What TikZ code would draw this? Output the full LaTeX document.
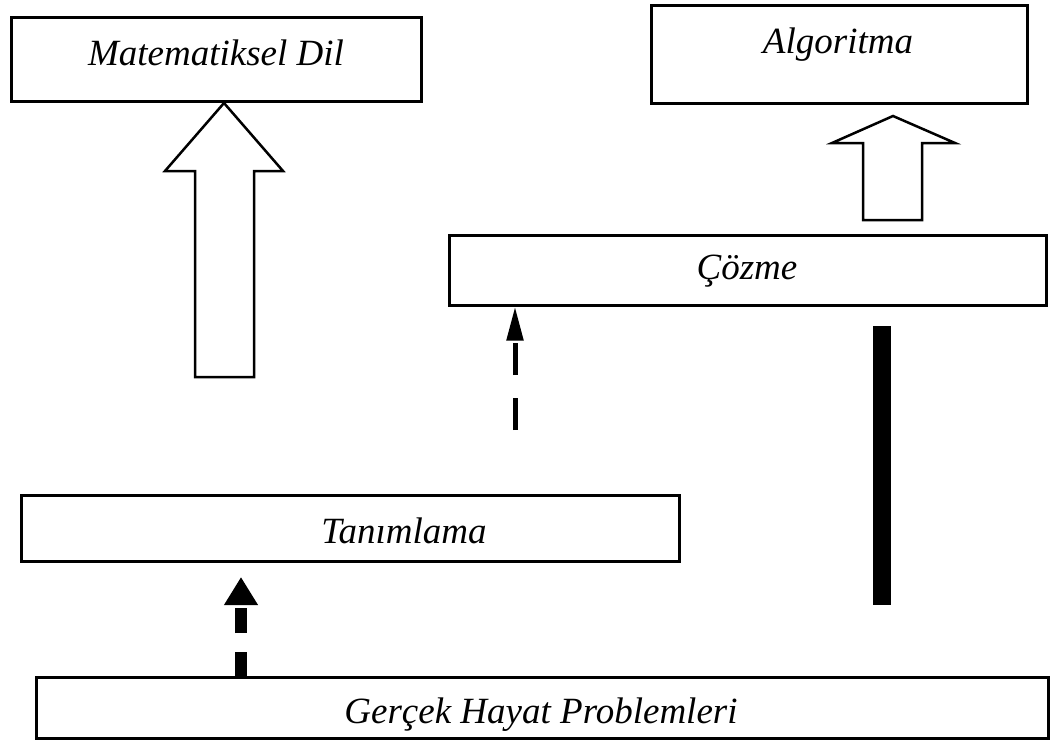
\documentclass[tikz,border=0pt]{standalone}
\usepackage{fontspec}
\setmainfont{Liberation Serif}
\usetikzlibrary{arrows.meta,calc}
\begin{document}
\begin{tikzpicture}[x=1pt,y=-1pt,
  box/.style={draw=black,line width=3pt,rectangle,inner sep=0pt},
  blockarrow/.style={draw=black,line width=2.5pt,fill=white,line join=miter},
  txt/.style={font=\fontsize{37}{40}\selectfont\itshape,inner sep=0pt}]
\useasboundingbox (0,0) rectangle (1050,742);
\fill[white] (0,0) rectangle (1050,742);
% boxes
\node[box,minimum width=410pt,minimum height=84pt] (mat) at (216,59) {};
\node[txt] (matt) at (216,53) {Matematiksel Dil};
\node[box,minimum width=376pt,minimum height=98pt] (alg) at (839,54) {};
\node[txt] (algt) at (838,45) {Algoritma};
\node[box,minimum width=597pt,minimum height=70pt] (coz) at (747.5,270) {};
\node[txt] (cozt) at (747,271) {Çözme};
\node[box,minimum width=658pt,minimum height=66pt] (tan) at (350,528) {};
\node[txt] (tant) at (404,531) {Tanımlama};
\node[box,minimum width=1012pt,minimum height=61pt] (ger) at (542,707.5) {};
\node[txt] (gert) at (541,715) {Gerçek Hayat Problemleri};
% hollow block arrows
\draw[blockarrow] (195,377) -- (195,171) -- (165,171) -- (224,103) -- (283,171) -- (254,171) -- (254,377) -- cycle;
\draw[blockarrow] (863,220) -- (863,143) -- (832,143) -- (893,116) -- (955,143) -- (922,143) -- (922,220) -- cycle;
% dashed arrows
\coordinate (d1s) at (515,430);
\draw[line width=5pt,dash pattern=on 32pt off 23pt,-{Triangle[width=16pt,length=34pt]}] (d1s) -- (d1s |- coz.south);
\coordinate (d2s) at (241,677);
\coordinate (d2e) at (241,577);
\draw[line width=12pt,dash pattern=on 25pt off 19pt,-{Triangle[width=32pt,length=28pt]}] (d2s) -- (d2e);
% thick bar
\fill[black] (873,326) rectangle (891,605);
\end{tikzpicture}
\end{document}
